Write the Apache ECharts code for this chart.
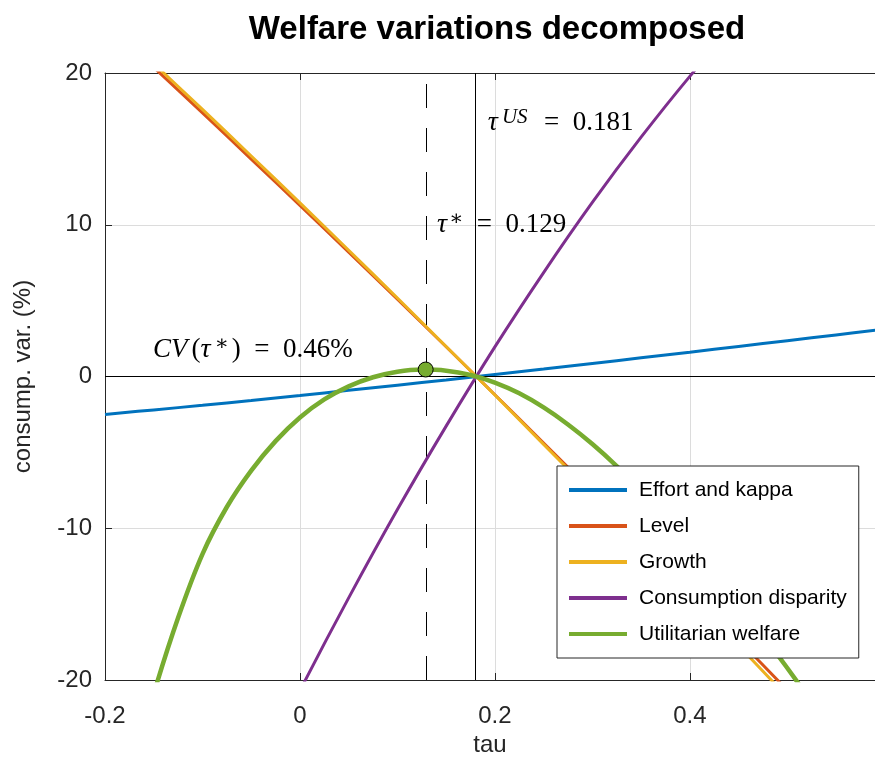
<!DOCTYPE html>
<html>
<head>
<meta charset="utf-8">
<script src="https://cdn.jsdelivr.net/npm/echarts@6/dist/echarts.min.js"></script>
<style>
  html, body { margin: 0; padding: 0; background: #fff; }
  #chart { width: 875px; height: 760px; }
</style>
</head>
<body>
<div id="chart"></div>
<script>
// ---------- data ----------
const tau = [-0.2, -0.15, -0.1, -0.05, 0, 0.05, 0.1, 0.15, 0.2, 0.25, 0.3, 0.35, 0.4, 0.45, 0.5, 0.55, 0.6];
const effortKappa = [-2.5, -2.2, -1.9, -1.58, -1.25, -0.91, -0.57, -0.23, 0.13, 0.49, 0.86, 1.23, 1.6, 1.98, 2.36, 2.74, 3.12];
const level = [23.35, 20.37, 17.37, 14.33, 11.28, 8.19, 5.09, 1.96, -1.2, -4.38, -7.59, -10.82, -14.08, -17.36, -20.67, -24.0, -27.36];
const growth = [23.63, 20.62, 17.6, 14.53, 11.44, 8.32, 5.17, 1.98, -1.22, -4.47, -7.73, -11.04, -14.37, -17.73, -21.12, -24.55, -27.99];
const disparity = [-48.17, -40.86, -33.83, -27.12, -20.7, -14.59, -8.77, -3.27, 1.95, 6.85, 11.47, 15.77, 19.78, 23.48, 26.89, 29.99, 32.8];
const tauFine = [-0.2, -0.175, -0.15, -0.125, -0.1, -0.075, -0.05, -0.025, 0, 0.025, 0.05, 0.075, 0.1, 0.125, 0.15, 0.175, 0.2,
  0.225, 0.25, 0.275, 0.3, 0.325, 0.35, 0.375, 0.4, 0.425, 0.45, 0.475, 0.5, 0.525, 0.55, 0.575, 0.6];
const utilitarian = [-33.3, -26.6, -20.9, -15.9, -11.7, -8.6, -6.2, -4.26, -2.7, -1.51, -0.65, -0.05, 0.315, 0.457, 0.385, 0.1, -0.4,
  -1.11, -2.04, -3.16, -4.45, -5.9, -7.49, -9.2, -11.03, -12.95, -14.96, -17.05, -19.21, -21.44, -23.73, -26.08, -28.48];
const seriesNames = ['Effort and kappa', 'Level', 'Growth', 'Consumption disparity', 'Utilitarian welfare'];
const xTicks = [-0.2, 0, 0.2, 0.4];
const yTicks = [-20, -10, 0, 10, 20];
const tauUS = 0.181;
const tauStar = 0.129;
const cvStar = 0.46;

// ---------- styles / layout ----------
const colors = ['#0072BD', '#D95319', '#EDB120', '#7E2F8E', '#77AC30'];
const widths = [3, 3, 3, 3, 4.5];
const axisColor = '#262626';
const sans = 'Liberation Sans, Arial, Helvetica, sans-serif';
const serif = 'Liberation Serif, DejaVu Serif, Times New Roman, serif';
const EN = '\u2002';
const annotations = [
  { x: 0.1928, y: 16.7, text: '{t|τ}{s|US}{n|' + EN + '=' + EN + '0.181}' },
  { x: 0.1405, y: 10.0, text: '{t|τ}{a|∗}{n|' + EN + '=' + EN + '0.129}' },
  { x: -0.1508, y: 1.78, text: '{c|CV}{n|(}{t|τ}{s|∗}{n|)' + EN + '=' + EN + '0.46%}' }
];

const chart = echarts.init(document.getElementById('chart'), null, { renderer: 'canvas' });

function pairs(xs, ys) { return xs.map((t, i) => [t, ys[i]]); }
const allSeries = [
  { x: tau, y: effortKappa },
  { x: tau, y: level },
  { x: tau, y: growth },
  { x: tau, y: disparity },
  { x: tauFine, y: utilitarian }
];

const lineSeries = allSeries.map((s, i) => ({
  name: seriesNames[i],
  type: 'line',
  data: pairs(s.x, s.y),
  smooth: i === 4 ? 0.25 : 0.4,
  symbol: 'none',
  clip: true,
  z: 3 + i,
  lineStyle: { color: colors[i], width: widths[i] },
  itemStyle: { color: colors[i] },
  emphasis: { disabled: true }
}));

const refSeries = {
  type: 'line',
  data: [],
  silent: true,
  z: 2,
  markLine: {
    silent: true,
    symbol: ['none', 'none'],
    label: { show: false },
    animation: false,
    data: [
      { yAxis: 0, lineStyle: { color: '#000', width: 1, type: 'solid' } },
      { xAxis: tauUS, lineStyle: { color: '#000', width: 1, type: 'solid' } },
      { xAxis: tauStar, lineStyle: { color: '#000', width: 1, type: [24, 20] } }
    ]
  }
};

const markerSeries = {
  type: 'scatter',
  data: [[tauStar, cvStar]],
  symbol: 'circle',
  symbolSize: 15,
  z: 20,
  silent: true,
  itemStyle: { color: '#77AC30', borderColor: '#000', borderWidth: 1, opacity: 1 }
};

const tickLabelX = v => (xTicks.some(t => Math.abs(t - v) < 1e-9) ? String(Math.round(v * 10) / 10) : '');

const option = {
  animation: false,
  backgroundColor: '#fff',
  title: {
    text: 'Welfare variations decomposed',
    left: 492,
    top: 8,
    textAlign: 'center',
    textStyle: { fontFamily: sans, fontSize: 33, fontWeight: 'bold', color: '#000' }
  },
  grid: {
    left: 105, top: 73, right: 0, bottom: 80,
    show: false,
    outerBoundsMode: 'none',
    containLabel: false
  },
  legend: {
    data: seriesNames,
    orient: 'vertical',
    left: 557,
    top: 466,
    padding: [13, 12, 13, 12],
    itemWidth: 58,
    itemHeight: 4,
    itemGap: 14,
    icon: 'rect',
    backgroundColor: '#fff',
    borderColor: axisColor,
    borderWidth: 1,
    borderRadius: 0,
    selectedMode: false,
    textStyle: { fontFamily: sans, fontSize: 21, color: '#000', lineHeight: 22, padding: [0, 0, 0, 7] },
    z: 30
  },
  xAxis: [{
    type: 'value',
    min: -0.2,
    max: 0.59,
    interval: 0.2,
    name: 'tau',
    nameLocation: 'middle',
    nameGap: 53,
    nameTextStyle: { fontFamily: sans, fontSize: 24, color: axisColor },
    axisLine: { show: true, onZero: false, lineStyle: { color: axisColor, width: 1 } },
    axisTick: { show: true, inside: true, length: 7, lineStyle: { color: axisColor } },
    axisLabel: {
      fontFamily: sans, fontSize: 24, color: axisColor, margin: 24,
      showMaxLabel: false,
      formatter: tickLabelX
    },
    splitLine: { show: true, lineStyle: { color: '#dcdcdc', width: 1 } }
  }, {
    type: 'value',
    position: 'top',
    min: -0.2,
    max: 0.59,
    interval: 0.2,
    axisLine: { show: true, onZero: false, lineStyle: { color: axisColor, width: 1 } },
    axisTick: { show: true, inside: true, length: 7, lineStyle: { color: axisColor } },
    axisLabel: { show: false },
    splitLine: { show: false }
  }],
  yAxis: {
    type: 'value',
    min: -20,
    max: 20,
    interval: 10,
    name: 'consump. var. (%)',
    nameLocation: 'middle',
    nameGap: 70,
    nameTextStyle: { fontFamily: sans, fontSize: 24, color: axisColor },
    axisLine: { show: true, onZero: false, lineStyle: { color: axisColor, width: 1 } },
    axisTick: { show: true, inside: true, length: 7, lineStyle: { color: axisColor } },
    axisLabel: {
      fontFamily: sans, fontSize: 24, color: axisColor, margin: 13,
      formatter: v => (yTicks.indexOf(v) >= 0 ? String(v) : '')
    },
    splitLine: { show: true, lineStyle: { color: '#dcdcdc', width: 1 } }
  },
  series: [refSeries].concat(lineSeries).concat([markerSeries])
};

chart.setOption(option);

const rich = {
  t: { fontFamily: serif, fontStyle: 'italic', fontSize: 28, lineHeight: 32, color: '#000', padding: [0, 1, 0, 0] },
  c: { fontFamily: serif, fontStyle: 'italic', fontSize: 27, lineHeight: 32, color: '#000', padding: [0, 4, 0, 0] },
  n: { fontFamily: serif, fontSize: 27, lineHeight: 32, color: '#000' },
  s: { fontFamily: serif, fontStyle: 'italic', fontSize: 21, lineHeight: 19, verticalAlign: 'top', color: '#000', padding: [0, 3, 0, 3] },
  a: { fontFamily: serif, fontSize: 21, lineHeight: 19, verticalAlign: 'top', color: '#000', padding: [0, 0, 0, 1] }
};

const graphics = annotations.map(a => {
  const p = chart.convertToPixel({ xAxisIndex: 0, yAxisIndex: 0 }, [a.x, a.y]);
  return {
    type: 'text',
    x: p[0],
    y: p[1],
    z: 25,
    silent: true,
    style: { text: a.text, rich: rich, align: 'left', verticalAlign: 'middle' }
  };
});
chart.setOption({ graphic: graphics });
</script>
</body>
</html>
